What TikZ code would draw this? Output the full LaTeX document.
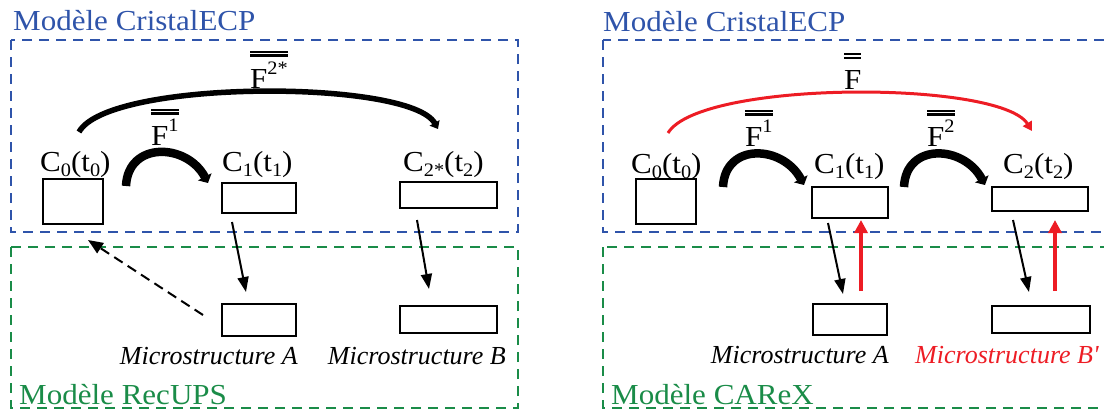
\documentclass[tikz,border=0pt]{standalone}
\usepackage{fontspec}
\usepackage{graphicx}
\setmainfont{Liberation Serif}
\usetikzlibrary{arrows.meta}
\definecolor{cblue}{RGB}{47,84,170}
\definecolor{cgreen}{RGB}{26,140,72}
\definecolor{cred}{RGB}{237,28,36}
\newcommand{\hs}[1]{\scalebox{1.07}[1]{#1}}
\newcommand{\hsi}[1]{\scalebox{1.0}[1]{#1}}
\newcommand{\lo}[1]{\raisebox{-0.2em}{\fontsize{19}{20}\selectfont #1}}
\newcommand{\up}[1]{\raisebox{0.48em}{\fontsize{19}{20}\selectfont #1}}
\newcommand{\dbar}[2]{\vbox{\hrule height 2.2pt\vskip 1.6pt\hrule height 2.2pt\vskip #1\hbox{#2}}}
\tikzset{
  box/.style={draw, line width=2.2pt, inner sep=0pt},
  lbl/.style={anchor=base west, inner sep=0pt, font=\fontsize{29}{32}\selectfont},
  mic/.style={anchor=base east, inner sep=0pt, font=\fontsize{26}{28}\selectfont\itshape},
  frameb/.style={cblue, line width=2.4pt, dash pattern=on 10pt off 7pt},
  frameg/.style={cgreen, line width=2.4pt, dash pattern=on 10pt off 7pt},
  bigarc/.style={line width=5.5pt, -{Triangle[length=7pt,width=11pt]}},
  smallarc/.style={line width=8.5pt, -{Triangle[length=7pt,width=15pt]}},
  redarc/.style={cred, line width=3pt, -{Triangle[length=9pt,width=10pt]}},
  arr/.style={line width=2pt, -{Triangle[length=15pt,width=11pt]}},
  redarr/.style={cred, line width=3.6pt, -{Triangle[length=13pt,width=13pt]}},
  dasharr/.style={line width=2pt, dash pattern=on 10pt off 6pt, -{Triangle[length=15pt,width=12pt]}}
}
\begin{document}
\begin{tikzpicture}[x=1pt,y=-1pt]
\useasboundingbox (0,0) rectangle (1104,410);
\clip (0,0) rectangle (1104,410);
% ---------------- left panel ----------------
\draw[frameb] (11,40) rectangle (518,232);
\draw[frameg] (11,247) rectangle (518,408);
\node[lbl, text=cblue] (tL) at (13,30) {\hs{Modèle CristalECP}};
\node[lbl, text=cgreen] (gL) at (19,404) {\hs{Modèle RecUPS}};

\node[box, minimum width=60pt, minimum height=45pt] (c0L) at (73,201.5) {};
\node[box, minimum width=74pt, minimum height=30pt] (c1L) at (259,198) {};
\node[box, minimum width=97pt, minimum height=26pt] (c2L) at (448.5,195) {};
\node[box, minimum width=74pt, minimum height=32pt] (mAL) at (259,320) {};
\node[box, minimum width=97pt, minimum height=27pt] (mBL) at (448.5,319.5) {};

\node[lbl] (lc0L) at (40,171) {\hs{C\lo{0}(t\lo{0})}};
\node[lbl] (lc1L) at (222,171) {\hs{C\lo{1}(t\lo{1})}};
\node[lbl] (lc2L) at (403,171) {\hs{C\lo{2*}(t\lo{2})}};
\node[mic] (lmAL) at (298,364) {\hsi{Microstructure A}};
\node[mic] (lmBL) at (506,364) {\hsi{Microstructure B}};

\node[lbl] (f2sL) at (250,88) {\hs{\dbar{5pt}{F\up{2*}}}};
\node[lbl] (f1L) at (151,145) {\hs{\dbar{4pt}{F\up{1}}}};

\coordinate (b0L) at (79,132); \coordinate (b2L) at (438,129);
\draw[bigarc] (b0L) .. controls (108,79) and (410,79) .. (b2L);
\coordinate (s0L) at (126,186); \coordinate (s1L) at (208,183);
\draw[smallarc] (s0L) .. controls (128,141) and (187,143) .. (s1L);

\coordinate (aAs) at (232,222); \coordinate (aAe) at (246,292);
\draw[arr] (aAs) -- (aAe);
\coordinate (aBs) at (417,220); \coordinate (aBe) at (429,289);
\draw[arr] (aBs) -- (aBe);
\coordinate (dS) at (203,315); \coordinate (dE) at (88,240);
\draw[dasharr] (dS) -- (dE);

% ---------------- right panel ----------------
\draw[frameb] (603,40) rectangle (1112,232);
\draw[frameg] (603,247) rectangle (1112,408);
\node[lbl, text=cblue] (tR) at (603,31) {\hs{Modèle CristalECP}};
\node[lbl, text=cgreen] (gR) at (611,404) {\hs{Modèle CAReX}};

\node[box, minimum width=60pt, minimum height=45pt] (c0R) at (666,201.5) {};
\node[box, minimum width=76pt, minimum height=31pt] (c1R) at (850,202.5) {};
\node[box, minimum width=96pt, minimum height=24pt] (c2R) at (1040,199) {};
\node[box, minimum width=74pt, minimum height=31pt] (mAR) at (850,319.5) {};
\node[box, minimum width=98pt, minimum height=27pt] (mBR) at (1041,319.5) {};

\node[lbl] (lc0R) at (631,173) {\hs{C\lo{0}(t\lo{0})}};
\node[lbl] (lc1R) at (814,173) {\hs{C\lo{1}(t\lo{1})}};
\node[lbl] (lc2R) at (1003,173) {\hs{C\lo{2}(t\lo{2})}};
\node[mic] (lmAR) at (889,363) {\hsi{Microstructure A}};
\node[mic, anchor=base west, text=cred] (lmBR) at (915,363) {\hsi{Microstructure B\textquotesingle}};

\node[lbl] (fR) at (844,89) {\hs{\dbar{11pt}{F}}};
\node[lbl] (f1R) at (745,146) {\hs{\dbar{4pt}{F\up{1}}}};
\node[lbl] (f2R) at (927,146) {\hs{\dbar{4pt}{F\up{2}}}};

\coordinate (r0) at (668,133); \coordinate (r2) at (1032,131);
\draw[redarc] (r0) .. controls (700,80) and (1000,80) .. (r2);
\coordinate (s0R) at (723,187); \coordinate (s1R) at (804,185);
\draw[smallarc] (s0R) .. controls (725,142) and (783,145) .. (s1R);
\coordinate (s2R) at (904,187); \coordinate (s3R) at (985,185);
\draw[smallarc] (s2R) .. controls (906,142) and (964,145) .. (s3R);

\coordinate (kAs) at (828,223); \coordinate (kAe) at (843,294);
\draw[arr] (kAs) -- (kAe);
\coordinate (kBs) at (1013,220); \coordinate (kBe) at (1029,292);
\draw[arr] (kBs) -- (kBe);
\coordinate (rAs) at (861,291); \coordinate (rAe) at (861,220);
\draw[redarr] (rAs) -- (rAe);
\coordinate (rBs) at (1055,291); \coordinate (rBe) at (1055,220);
\draw[redarr] (rBs) -- (rBe);
\end{tikzpicture}
\end{document}
